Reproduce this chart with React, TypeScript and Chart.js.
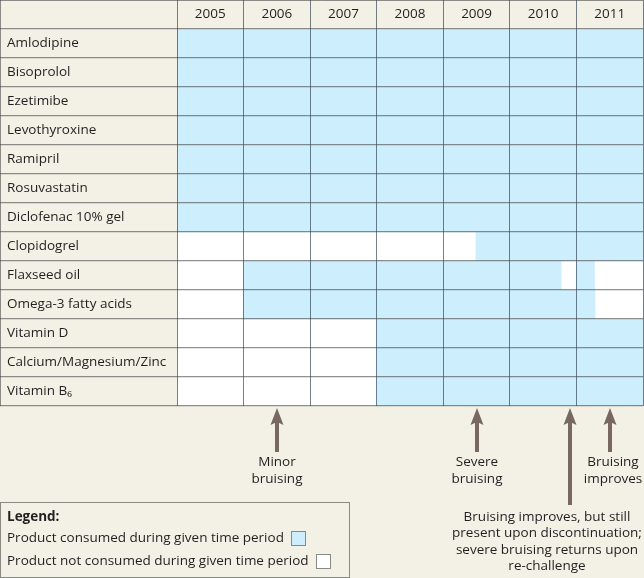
import React, { useEffect, useRef } from "react";
import { Chart, registerables } from "chart.js";

Chart.register(...registerables);

// ---------- data ----------
const drugs = [
  "Amlodipine",
  "Bisoprolol",
  "Ezetimibe",
  "Levothyroxine",
  "Ramipril",
  "Rosuvastatin",
  "Diclofenac 10% gel",
  "Clopidogrel",
  "Flaxseed oil",
  "Omega-3 fatty acids",
  "Vitamin D",
  "Calcium/Magnesium/Zinc",
  "Vitamin B₆",
];
const years = ["2005", "2006", "2007", "2008", "2009", "2010", "2011"];
// first consumption period (fractional years)
const periodStart = [2005, 2005, 2005, 2005, 2005, 2005, 2005, 2009.49, 2006, 2006, 2008, 2008, 2008];
const periodEnd = [2012, 2012, 2012, 2012, 2012, 2012, 2012, 2012, 2010.77, 2011.28, 2012, 2012, 2012];
// re-challenge period
const resumeStart = [null, null, null, null, null, null, null, null, 2011.0, null, null, null, null];
const resumeEnd = [null, null, null, null, null, null, null, null, 2011.27, null, null, null, null];
// events marked by arrows
const eventYears = [2006.5, 2009.5, 2010.9, 2011.5];
const eventNotes = [
  ["Minor", "bruising"],
  ["Severe", "bruising"],
  ["Bruising improves, but still", "present upon discontinuation;", "severe bruising returns upon", "re-challenge"],
  ["Bruising", "improves"],
];
const legendTitle = "Legend:";
const legendItems = [
  "Product consumed during given time period",
  "Product not consumed during given time period",
];

// ---------- style ----------
const FONT = "'Open Sans', 'Noto Sans', 'DejaVu Sans', sans-serif";
const FS = 13.5;
const BEIGE = "#f3f1e6";
const BLUE = "#cdeefd";
const TEXT = "#231f20";
const ARROW = "#786860";
const VLINE = "rgba(25,45,65,0.6)";
const HLINE = "rgba(70,70,70,0.6)";
const arrowLen = [44, 44, 97, 44];
const noteDx = [0, 0, -23, 3];
const noteTop = [56, 56, 111, 56];
const noteStep = [17, 17, 16.5, 17];

const decorPlugin = {
  id: "decor",
  beforeDraw(chart: any) {
    const { ctx, width, height } = chart;
    ctx.save();
    ctx.fillStyle = BEIGE;
    ctx.fillRect(0, 0, width, height);
    ctx.restore();
  },
  beforeDatasetsDraw(chart: any) {
    const { ctx, chartArea: a } = chart;
    ctx.save();
    ctx.fillStyle = "#ffffff";
    ctx.fillRect(a.left, a.top, a.right - a.left, a.bottom - a.top);
    ctx.restore();
  },
  afterDraw(chart: any) {
    const { ctx, chartArea: a } = chart;
    const xs = chart.scales.x;
    ctx.save();
    // outer frame: top and left edge
    ctx.strokeStyle = HLINE;
    ctx.lineWidth = 1;
    ctx.beginPath();
    ctx.moveTo(0, 0.5);
    ctx.lineTo(a.right, 0.5);
    ctx.moveTo(0.5, 0);
    ctx.lineTo(0.5, a.bottom);
    ctx.stroke();

    // arrows + notes
    ctx.font = `${FS}px ${FONT}`;
    ctx.textAlign = "center";
    ctx.textBaseline = "middle";
    eventYears.forEach((yr, i) => {
      const x = Math.round(xs.getPixelForValue(yr));
      const tip = a.bottom + 2;
      const end = tip + arrowLen[i];
      ctx.fillStyle = ARROW;
      ctx.fillRect(x - 2, tip + 12, 4, end - tip - 12);
      ctx.beginPath();
      ctx.moveTo(x, tip);
      ctx.lineTo(x + 6.5, tip + 17);
      ctx.lineTo(x, tip + 14);
      ctx.lineTo(x - 6.5, tip + 17);
      ctx.closePath();
      ctx.fill();
      ctx.fillStyle = TEXT;
      eventNotes[i].forEach((line, j) => {
        ctx.fillText(line, x + noteDx[i], a.bottom + noteTop[i] + j * noteStep[i]);
      });
    });

    // legend box
    const boxTop = a.bottom + 96;
    ctx.fillStyle = BEIGE;
    ctx.fillRect(0, boxTop, 349, chart.height - boxTop);
    ctx.strokeStyle = "#8a8a84";
    ctx.lineWidth = 1;
    ctx.strokeRect(0.5, boxTop + 0.5, 349, chart.height - boxTop - 1);
    ctx.textAlign = "left";
    ctx.fillStyle = TEXT;
    ctx.font = `bold ${FS}px ${FONT}`;
    ctx.fillText(legendTitle, 7, boxTop + 15);
    ctx.font = `${FS}px ${FONT}`;
    const swatchFill = [BLUE, "#ffffff"];
    legendItems.forEach((t, i) => {
      const y = boxTop + 36 + i * 23;
      ctx.fillStyle = TEXT;
      ctx.fillText(t, 7, y);
      const w = ctx.measureText(t).width;
      const sx = Math.round(7 + w + 7);
      ctx.fillStyle = swatchFill[i];
      ctx.fillRect(sx, Math.round(y - 7), 14, 14);
      ctx.strokeStyle = "#8a8a84";
      ctx.strokeRect(sx + 0.5, Math.round(y - 7) + 0.5, 14, 14);
    });
    ctx.restore();
  },
};

export default function App() {
  const ref = useRef<HTMLCanvasElement | null>(null);

  useEffect(() => {
    document.body.style.margin = "0";
    document.body.style.background = BEIGE;
    const canvas = ref.current;
    if (!canvas) return;
    const chart = new Chart(canvas, {
      type: "bar",
      data: {
        labels: drugs,
        datasets: [
          {
            label: "Consumed",
            data: drugs.map((_, i) => [periodStart[i], periodEnd[i]]) as any,
            backgroundColor: BLUE,
            borderWidth: 0,
            grouped: false,
            barPercentage: 1,
            categoryPercentage: 1,
          },
          {
            label: "Re-challenge",
            data: drugs.map((_, i) =>
              resumeStart[i] == null ? null : [resumeStart[i], resumeEnd[i]]
            ) as any,
            backgroundColor: BLUE,
            borderWidth: 0,
            grouped: false,
            barPercentage: 1,
            categoryPercentage: 1,
          },
        ],
      },
      options: {
        indexAxis: "y",
        animation: false,
        responsive: false,
        devicePixelRatio: 1,
        events: [],
        layout: { padding: { left: 0, top: 0, right: 1, bottom: 172 } },
        plugins: { legend: { display: false }, tooltip: { enabled: false } },
        scales: {
          x: {
            type: "linear",
            min: 2005,
            max: 2012,
            display: false,
          },
          xTop: {
            type: "category",
            labels: years,
            position: "top",
            offset: true,
            grid: {
              offset: true,
              color: VLINE,
              lineWidth: 1,
              drawTicks: true,
              tickLength: 29,
              z: 1,
            },
            border: { display: false },
            ticks: {
              color: TEXT,
              font: { family: FONT, size: FS, lineHeight: 1.2 },
              padding: -22.6,
              maxRotation: 0,
              autoSkip: false,
            },
            afterFit: (s: any) => {
              s.height = 29;
            },
          },
          y: {
            type: "category",
            offset: true,
            grid: {
              offset: true,
              color: HLINE,
              lineWidth: 1.2,
              drawTicks: true,
              tickLength: 177,
              z: 1,
            },
            border: { display: false },
            ticks: {
              mirror: true,
              crossAlign: "near",
              padding: -170,
              color: TEXT,
              font: { family: FONT, size: FS },
              autoSkip: false,
            },
            afterFit: (s: any) => {
              s.width = 177;
            },
          },
        },
      } as any,
      plugins: [decorPlugin],
    });
    return () => chart.destroy();
  }, []);

  return <canvas ref={ref} width={644} height={578} style={{ display: "block" }} />;
}
